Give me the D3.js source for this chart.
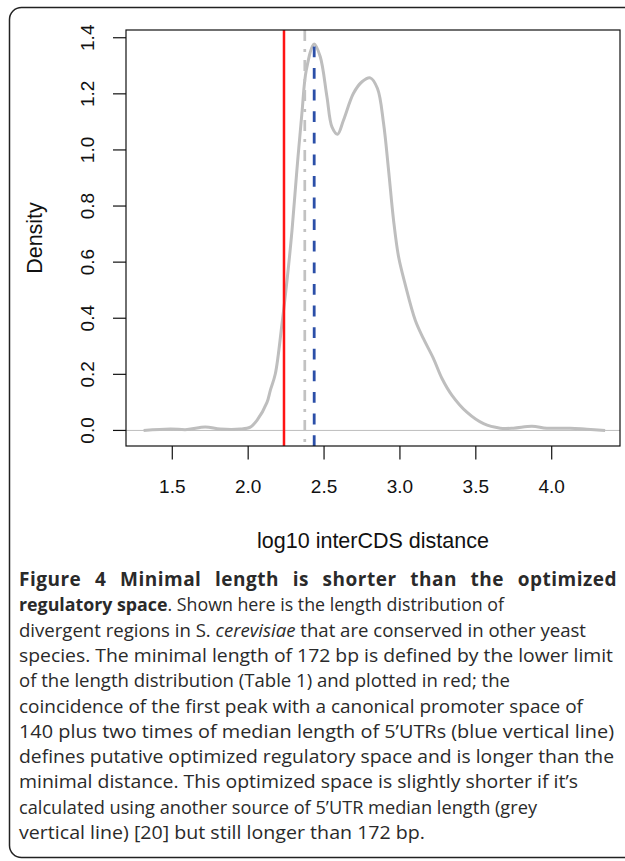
<!DOCTYPE html>
<html>
<head>
<meta charset="utf-8">
<script src="https://cdn.jsdelivr.net/npm/d3@7"></script>
<style>
  body { margin: 0; background: #fff; }
</style>
</head>
<body>
<div id="chart"></div>
<script>
// density of log10 interCDS distance
const densX = [1.311, 1.487, 1.597, 1.717, 1.816, 1.948, 2.014, 2.058, 2.124, 2.146, 2.179,
  2.223, 2.256, 2.289, 2.321, 2.354, 2.383, 2.435, 2.475, 2.519, 2.552, 2.589, 2.628,
  2.694, 2.750, 2.804, 2.852, 2.892, 2.925, 2.958, 2.991, 3.035, 3.101, 3.155, 3.221,
  3.277, 3.343, 3.441, 3.551, 3.661, 3.748, 3.870, 3.968, 4.122, 4.232, 4.352];
const densY = [0.000, 0.005, 0.003, 0.012, 0.005, 0.005, 0.012, 0.036, 0.100, 0.143, 0.202,
  0.381, 0.535, 0.714, 0.928, 1.130, 1.285, 1.378, 1.332, 1.190, 1.082, 1.056, 1.106,
  1.202, 1.243, 1.257, 1.219, 1.095, 0.928, 0.749, 0.619, 0.520, 0.393, 0.327, 0.256,
  0.185, 0.125, 0.065, 0.024, 0.008, 0.008, 0.015, 0.008, 0.008, 0.004, 0.000];

const xTicks = [1.5, 2.0, 2.5, 3.0, 3.5, 4.0];
const yTicks = [0.0, 0.2, 0.4, 0.6, 0.8, 1.0, 1.2, 1.4];

// vertical markers (log10 bp)
const minimalLog = 2.236;   // 172 bp, red
const optimizedLog = 2.435; // first peak, blue dashed
const altLog = 2.373;       // other 5'UTR source, grey dot-dash
const peakDensity = 1.378;

const xTitle = "log10 interCDS distance";
const yTitle = "Density";

// caption: each line is a list of [text, style]
const captionLines = [
  [["Figure 4 Minimal length is shorter than the optimized", "b"]],
  [["regulatory space", "b"], [". Shown here is the length distribution of", "r"]],
  [["divergent regions in S. ", "r"], ["cerevisiae", "i"], [" that are conserved in other yeast", "r"]],
  [["species. The minimal length of 172 bp is defined by the lower limit", "r"]],
  [["of the length distribution (Table 1) and plotted in red; the", "r"]],
  [["coincidence of the first peak with a canonical promoter space of", "r"]],
  [["140 plus two times of median length of 5\u2019UTRs (blue vertical line)", "r"]],
  [["defines putative optimized regulatory space and is longer than the", "r"]],
  [["minimal distance. This optimized space is slightly shorter if it\u2019s", "r"]],
  [["calculated using another source of 5\u2019UTR median length (grey", "r"]],
  [["vertical line) [20] but still longer than 172 bp.", "r"]]
];

// layout: right end of each caption line in the original typesetting
const captionRightEdge = [617, 504, 586, 613, 510, 583, 614, 614, 578, 537, 425];

const W = 625, H = 861;
const plot = { left: 126, right: 620, top: 30, bottom: 446 };
const fontPlot = '"Liberation Sans", Arial, sans-serif';
const fontCap = '"Open Sans", "Noto Sans", sans-serif';

const svg = d3.select("#chart").append("svg")
  .attr("width", W)
  .attr("height", H)
  .attr("viewBox", [0, 0, W, H]);

svg.append("rect").attr("width", W).attr("height", H).attr("fill", "#fff");

// rounded frame, runs off the right edge
svg.append("rect")
  .attr("x", 9.5).attr("y", 7.5)
  .attr("width", W + 40).attr("height", 850)
  .attr("rx", 12)
  .attr("fill", "none")
  .attr("stroke", "#222")
  .attr("stroke-width", 1.5);

const x = d3.scaleLinear().domain([1.195, 4.45]).range([plot.left, plot.right]);
const y = d3.scaleLinear().domain([-0.0555, 1.4276]).range([plot.bottom, plot.top]);

const g = svg.append("g");

// zero line
g.append("line")
  .attr("x1", plot.left).attr("x2", plot.right)
  .attr("y1", y(0)).attr("y2", y(0))
  .attr("stroke", "#bebebe").attr("stroke-width", 1);

// density curve
const pts = densX.map(function(v, i) { return [v, densY[i]]; });
g.append("path")
  .datum(pts)
  .attr("fill", "none")
  .attr("stroke", "#bebebe")
  .attr("stroke-width", 3)
  .attr("d", d3.line()
    .x(function(d) { return x(d[0]); })
    .y(function(d) { return y(d[1]); })
    .curve(d3.curveCatmullRom.alpha(0.5)));

// markers
g.append("line")
  .attr("x1", x(minimalLog)).attr("x2", x(minimalLog))
  .attr("y1", plot.top).attr("y2", plot.bottom)
  .attr("stroke", "#ff1414").attr("stroke-width", 2.5);

g.append("line")
  .attr("x1", x(altLog)).attr("x2", x(altLog))
  .attr("y1", plot.top).attr("y2", plot.bottom)
  .attr("stroke", "#c2c2c2").attr("stroke-width", 2.7)
  .attr("stroke-dasharray", "11,8,3,8");

g.append("line")
  .attr("x1", x(optimizedLog)).attr("x2", x(optimizedLog))
  .attr("y1", plot.bottom).attr("y2", y(peakDensity))
  .attr("stroke", "#2b4fa8").attr("stroke-width", 2.8)
  .attr("stroke-dasharray", "10.8,10.8");

// box
g.append("rect")
  .attr("x", plot.left).attr("y", plot.top)
  .attr("width", plot.right - plot.left).attr("height", plot.bottom - plot.top)
  .attr("fill", "none").attr("stroke", "#111").attr("stroke-width", 1.2);

// x axis
g.selectAll("line.xt").data(xTicks).join("line")
  .attr("class", "xt")
  .attr("x1", function(d) { return x(d); }).attr("x2", function(d) { return x(d); })
  .attr("y1", plot.bottom).attr("y2", plot.bottom + 13.5)
  .attr("stroke", "#111").attr("stroke-width", 1.2);

g.selectAll("text.xl").data(xTicks).join("text")
  .attr("class", "xl")
  .attr("x", function(d) { return x(d); })
  .attr("y", 493)
  .attr("text-anchor", "middle")
  .attr("font-family", fontPlot)
  .attr("font-size", 19)
  .attr("fill", "#111")
  .text(function(d) { return d.toFixed(1); });

// y axis
g.selectAll("line.yt").data(yTicks).join("line")
  .attr("class", "yt")
  .attr("x1", plot.left - 13).attr("x2", plot.left)
  .attr("y1", function(d) { return y(d); }).attr("y2", function(d) { return y(d); })
  .attr("stroke", "#111").attr("stroke-width", 1.2);

g.selectAll("text.yl").data(yTicks).join("text")
  .attr("class", "yl")
  .attr("transform", function(d) { return "translate(94," + y(d) + ") rotate(-90)"; })
  .attr("text-anchor", "middle")
  .attr("font-family", fontPlot)
  .attr("font-size", 19)
  .attr("fill", "#111")
  .text(function(d) { return d.toFixed(1); });

svg.append("text")
  .attr("x", (plot.left + plot.right) / 2)
  .attr("y", 548)
  .attr("text-anchor", "middle")
  .attr("font-family", fontPlot)
  .attr("font-size", 21.5)
  .attr("fill", "#111")
  .text(xTitle);

svg.append("text")
  .attr("transform", "translate(42," + ((plot.top + plot.bottom) / 2) + ") rotate(-90)")
  .attr("text-anchor", "middle")
  .attr("font-family", fontPlot)
  .attr("font-size", 21.5)
  .attr("fill", "#111")
  .text(yTitle);

// caption, each line fitted to the width it has in the original
const capLeft = 19, capTop = 586, capStep = 25.3;
const cap = svg.append("g")
  .attr("font-family", fontCap)
  .attr("font-size", 18)
  .attr("fill", "#2a2a2a");

const rows = cap.selectAll("text").data(captionLines).join("text")
  .attr("x", capLeft)
  .attr("y", function(d, i) { return capTop + i * capStep; });

rows.selectAll("tspan").data(function(d) { return d; }).join("tspan")
  .attr("font-weight", function(d) { return d[1] === "b" ? 700 : 400; })
  .attr("font-style", function(d) { return d[1] === "i" ? "italic" : "normal"; })
  .text(function(d) { return d[0]; });

rows.each(function(d, i) {
  const el = d3.select(this);
  const target = captionRightEdge[i] - capLeft;
  if (i === 0) {
    // justified title line: open up letters a little, words a lot
    el.attr("font-size", 19).attr("letter-spacing", 0.5);
    const spaces = d[0][0].split(" ").length - 1;
    const extra = target - this.getComputedTextLength();
    el.attr("word-spacing", Math.max(0, extra / spaces));
  } else {
    el.attr("textLength", target).attr("lengthAdjust", "spacingAndGlyphs");
  }
});
</script>
</body>
</html>
